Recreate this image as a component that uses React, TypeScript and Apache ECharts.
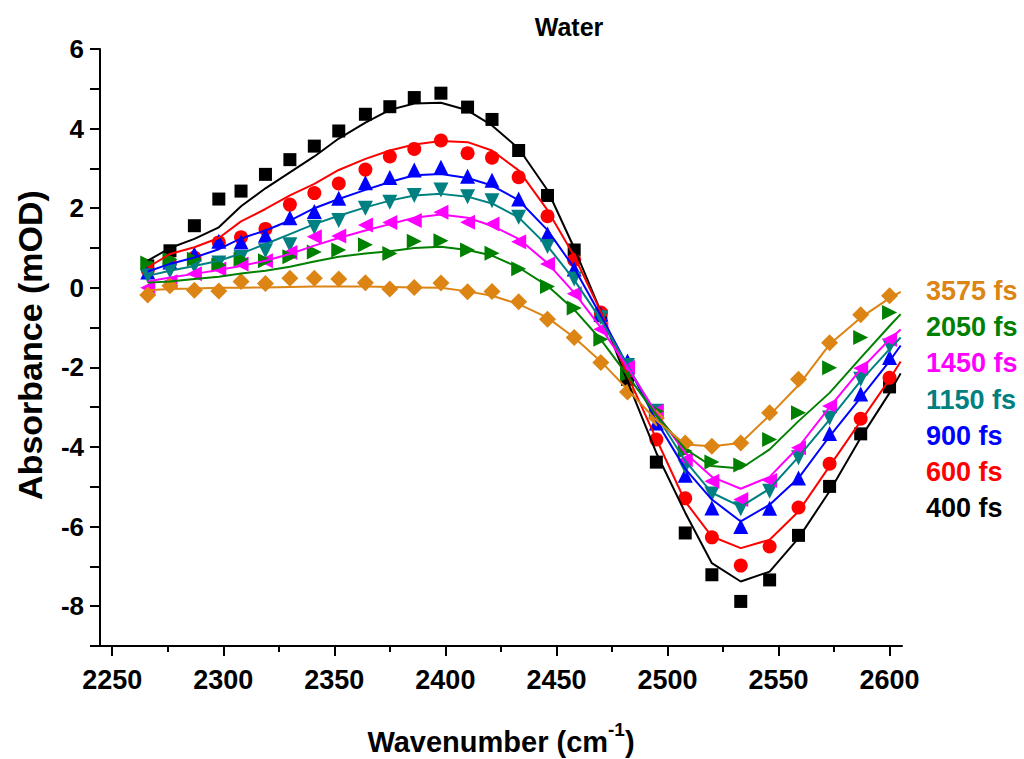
import React, { useEffect, useRef } from "react";
import * as echarts from "echarts";

// Probe wavenumbers (cm^-1) of the measured points
const wavenumbers = [
  2266, 2276, 2287, 2298, 2308, 2319, 2330, 2341, 2352, 2364, 2375, 2386, 2398, 2410, 2421,
  2433, 2446, 2458, 2470, 2482, 2495, 2508, 2520, 2533, 2546, 2559, 2573, 2587, 2600,
];
// The fitted curves run one step further, to the right edge of the frame
const fitWavenumbers = [...wavenumbers, 2605];

// Measured transient absorbance (mOD) at each delay
const data400 = [
  0.55, 0.93, 1.56, 2.23, 2.43, 2.85, 3.22, 3.56, 3.94, 4.36, 4.55, 4.78, 4.89, 4.54, 4.23,
  3.45, 2.32, 0.95, -0.7, -2.3, -4.38, -6.16, -7.21, -7.88, -7.34, -6.22, -4.99, -3.67, -2.49,
];
const data600 = [
  0.45, 0.62, 0.76, 1.14, 1.27, 1.48, 2.09, 2.38, 2.62, 2.97, 3.3, 3.49, 3.7, 3.38, 3.27,
  2.78, 1.8, 0.7, -0.62, -2.1, -3.81, -5.29, -6.27, -6.98, -6.5, -5.52, -4.42, -3.29, -2.26,
];
const data900 = [
  0.4, 0.65, 0.85, 1.17, 1.15, 1.32, 1.76, 1.92, 2.25, 2.64, 2.77, 2.96, 3.03, 2.8, 2.7,
  2.23, 1.35, 0.47, -0.66, -1.84, -3.4, -4.71, -5.53, -6.0, -5.54, -4.78, -3.66, -2.67, -1.75,
];
const data1150 = [
  0.3, 0.42, 0.55, 0.62, 0.76, 0.93, 1.08, 1.52, 1.69, 2.0, 2.15, 2.32, 2.46, 2.29, 2.19,
  1.77, 1.04, 0.22, -0.75, -1.95, -3.1, -4.5, -5.18, -5.55, -5.11, -4.27, -3.27, -2.3, -1.46,
];
const data1450 = [
  0.0, 0.15, 0.35, 0.47, 0.6, 0.68, 0.89, 1.28, 1.3, 1.58, 1.64, 1.69, 1.9, 1.65, 1.6,
  1.16, 0.6, -0.15, -1.04, -2.0, -3.1, -4.32, -4.86, -5.32, -4.84, -4.02, -2.97, -2.02, -1.3,
];
const data2050 = [
  0.62, 0.72, 0.72, 0.57, 0.72, 0.68, 0.78, 0.9, 0.95, 1.08, 0.86, 1.17, 1.18, 0.95, 0.87,
  0.48, 0.03, -0.51, -1.29, -2.17, -3.1, -4.1, -4.38, -4.45, -3.81, -3.14, -2.01, -1.25, -0.62,
];
const data3575 = [
  -0.18, 0.05, -0.06, -0.08, 0.16, 0.11, 0.24, 0.24, 0.22, 0.13, -0.03, 0.01, 0.12, -0.1, -0.09,
  -0.35, -0.79, -1.25, -1.88, -2.62, -3.27, -3.9, -3.98, -3.9, -3.14, -2.3, -1.38, -0.68, -0.2,
];

// Global fit curves (mOD) on fitWavenumbers
const fit400 = [
  0.68, 1.0, 1.23, 1.52, 2.05, 2.5, 2.9, 3.3, 3.75, 4.15, 4.47, 4.63, 4.65, 4.46, 4.08,
  3.5, 2.45, 1.0, -0.6, -2.35, -4.15, -5.65, -6.92, -7.38, -7.13, -6.29, -5.11, -3.77, -2.64, -2.15,
];
const fit600 = [
  0.51, 0.85, 1.02, 1.25, 1.67, 1.98, 2.32, 2.61, 2.96, 3.24, 3.45, 3.6, 3.69, 3.66, 3.45,
  2.95, 1.95, 0.8, -0.6, -2.2, -3.8, -5.37, -6.25, -6.54, -6.33, -5.62, -4.48, -3.35, -2.3, -1.85,
];
const fit900 = [
  0.41, 0.6, 0.76, 0.97, 1.24, 1.44, 1.69, 2.0, 2.23, 2.46, 2.66, 2.83, 2.86, 2.76, 2.57,
  2.2, 1.45, 0.5, -0.7, -1.95, -3.35, -4.55, -5.32, -5.87, -5.45, -4.78, -3.73, -2.76, -1.84, -1.45,
];
const fit1150 = [
  0.3, 0.43, 0.55, 0.68, 0.86, 1.1, 1.35, 1.6, 1.81, 2.02, 2.19, 2.32, 2.36, 2.29, 2.12,
  1.77, 1.05, 0.2, -0.8, -1.95, -3.2, -4.35, -5.15, -5.5, -5.05, -4.25, -3.31, -2.34, -1.54, -1.25,
];
const fit1450 = [
  0.16, 0.26, 0.35, 0.45, 0.55, 0.68, 0.85, 1.06, 1.25, 1.44, 1.6, 1.76, 1.84, 1.76, 1.56,
  1.23, 0.62, -0.12, -1.0, -2.0, -3.15, -4.15, -4.75, -5.05, -4.75, -4.0, -3.0, -2.05, -1.3, -1.05,
];
const fit2050 = [
  0.13, 0.16, 0.22, 0.28, 0.36, 0.43, 0.53, 0.66, 0.78, 0.86, 0.92, 1.0, 1.03, 0.95, 0.81,
  0.51, 0.05, -0.55, -1.3, -2.2, -3.2, -4.05, -4.48, -4.54, -4.06, -3.35, -2.64, -1.76, -0.96, -0.66,
];
const fit3575 = [
  -0.06, -0.03, -0.02, 0.0, 0.0, 0.01, 0.02, 0.03, 0.03, 0.03, 0.02, 0.01, 0.0, -0.09, -0.2,
  -0.41, -0.75, -1.25, -1.85, -2.55, -3.33, -3.94, -3.98, -3.9, -3.2, -2.45, -1.42, -0.75, -0.26, -0.1,
];

// Axis ticks
const xMajorTicks = [2250, 2300, 2350, 2400, 2450, 2500, 2550, 2600];
const xMinorTicks = [2275, 2325, 2375, 2425, 2475, 2525, 2575];

const FONT = '"Liberation Sans", Arial, Helvetica, sans-serif';

type Trace = {
  label: string;
  color: string;
  symbol: string;
  rotate: number;
  size: number;
  points: number[];
  fit: number[];
};

const traces: Trace[] = [
  { label: "400 fs", color: "#000000", symbol: "rect", rotate: 0, size: 13, points: data400, fit: fit400 },
  { label: "600 fs", color: "#ff0000", symbol: "circle", rotate: 0, size: 14, points: data600, fit: fit600 },
  { label: "900 fs", color: "#0000ff", symbol: "triangle", rotate: 0, size: 15, points: data900, fit: fit900 },
  { label: "1150 fs", color: "#008080", symbol: "triangle", rotate: 180, size: 15, points: data1150, fit: fit1150 },
  { label: "1450 fs", color: "#ff00ff", symbol: "triangle", rotate: 90, size: 15, points: data1450, fit: fit1450 },
  { label: "2050 fs", color: "#008000", symbol: "triangle", rotate: -90, size: 15, points: data2050, fit: fit2050 },
  { label: "3575 fs", color: "#dc8414", symbol: "diamond", rotate: 0, size: 17, points: data3575, fit: fit3575 },
];

export default function App() {
  const ref = useRef<HTMLDivElement>(null);

  useEffect(() => {
    if (!ref.current) return;
    const chart = echarts.init(ref.current, null, { renderer: "svg" });

    const series: any[] = [];
    traces.forEach((t) => {
      series.push({
        type: "scatter",
        name: t.label,
        xAxisIndex: 0,
        data: wavenumbers.map((x, i) => [x, t.points[i]]),
        symbol: t.symbol,
        symbolSize: t.size,
        symbolRotate: t.rotate,
        itemStyle: { color: t.color, opacity: 1 },
        silent: true,
      });
      series.push({
        type: "line",
        name: t.label + " fit",
        xAxisIndex: 0,
        data: fitWavenumbers.map((x, i) => [x, t.fit[i]]),
        showSymbol: false,
        smooth: false,
        lineStyle: { color: t.color, width: 2 },
        silent: true,
      });
    });

    // Delay labels on the right, top to bottom from the latest delay
    const legendTexts = [...traces].reverse().map((t, i) => ({
      type: "text",
      x: 926,
      y: 291 + i * 36.2,
      style: {
        text: t.label,
        fill: t.color,
        font: `bold 27px ${FONT}`,
        align: "left",
        verticalAlign: "middle",
      },
    }));

    const xBase = {
      type: "value",
      min: 2244.5,
      max: 2605.6,
      splitLine: { show: false },
    };

    chart.setOption({
      animation: false,
      backgroundColor: "#ffffff",
      grid: { left: 100, right: 122, top: 49, bottom: 113, containLabel: false },
      xAxis: [
        {
          ...xBase,
          axisLine: { show: true, onZero: false, lineStyle: { color: "#000", width: 2 } },
          axisTick: {
            show: true,
            inside: false,
            length: 10,
            customValues: xMajorTicks,
            lineStyle: { color: "#000", width: 2 },
          },
          axisLabel: {
            customValues: xMajorTicks,
            formatter: (v: number) => String(v),
            color: "#000",
            fontFamily: FONT,
            fontWeight: "bold",
            fontSize: 27,
            margin: 20,
          },
        },
        {
          ...xBase,
          position: "bottom",
          axisLine: { show: false, onZero: false },
          axisTick: {
            show: true,
            inside: false,
            length: 6,
            customValues: xMinorTicks,
            lineStyle: { color: "#000", width: 2 },
          },
          axisLabel: { show: false },
        },
      ],
      yAxis: {
        type: "value",
        min: -9,
        max: 6,
        interval: 1,
        axisLine: { show: true, onZero: false, lineStyle: { color: "#000", width: 2 } },
        axisTick: { show: true, inside: false, length: 10, lineStyle: { color: "#000", width: 2 } },
        axisLabel: {
          color: "#000",
          fontFamily: FONT,
          fontWeight: "bold",
          fontSize: 26,
          margin: 16,
          formatter: (v: number) => (Math.abs(v % 2) === 0 ? String(v) : ""),
        },
        splitLine: { show: false },
      },
      graphic: [
        {
          type: "text",
          x: 569,
          y: 27,
          style: {
            text: "Water",
            fill: "#000",
            font: `bold 25px ${FONT}`,
            align: "center",
            verticalAlign: "middle",
          },
        },
        {
          type: "text",
          x: 30,
          y: 345,
          rotation: Math.PI / 2,
          style: {
            text: "Absorbance (mOD)",
            fill: "#000",
            font: `bold 34px ${FONT}`,
            align: "center",
            verticalAlign: "middle",
          },
        },
        {
          type: "text",
          x: 501,
          y: 742,
          style: {
            text: "{a|Wavenumber (cm}{s|-1}{a|)}",
            align: "center",
            verticalAlign: "middle",
            rich: {
              a: { font: `bold 29px ${FONT}`, fill: "#000", lineHeight: 44, verticalAlign: "middle" },
              s: { font: `bold 19px ${FONT}`, fill: "#000", lineHeight: 24, verticalAlign: "top" },
            },
          },
        },
        ...legendTexts,
      ],
      series,
    });

    return () => chart.dispose();
  }, []);

  return (
    <div
      ref={ref}
      style={{ position: "fixed", left: 0, top: 0, width: 1024, height: 759, background: "#fff" }}
    />
  );
}
